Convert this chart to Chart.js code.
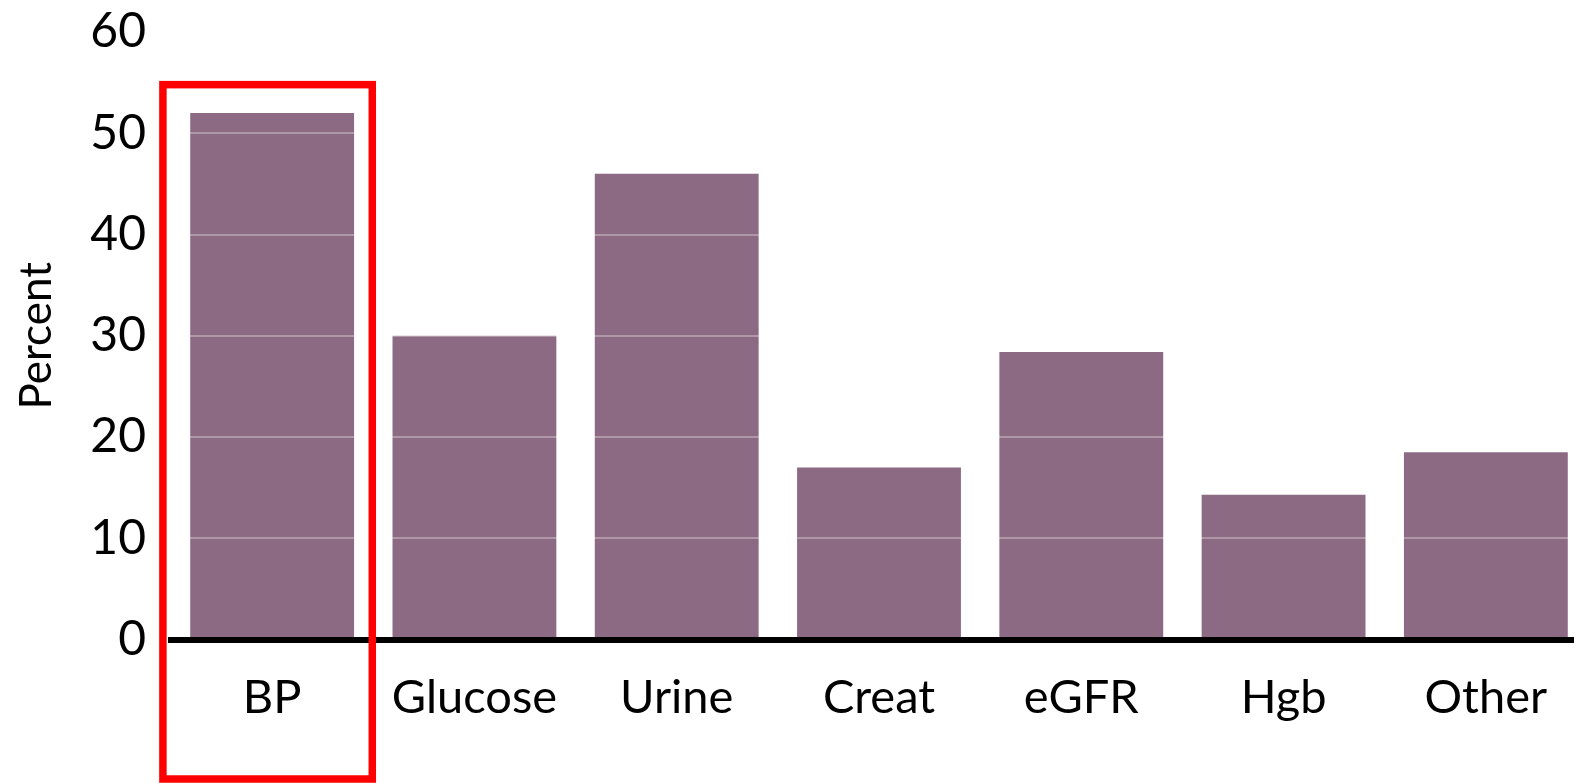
<!DOCTYPE html>
<html>
<head>
<meta charset="utf-8">
<script src="https://cdn.jsdelivr.net/npm/chart.js@4/dist/chart.umd.min.js"></script>
<style>
  html, body { margin: 0; padding: 0; background: #fff; overflow: hidden; }
  #wrap { width: 1574px; height: 783px; overflow: hidden; }
  canvas { display: block; }
</style>
</head>
<body>
<div id="wrap"><canvas id="grafico" width="1588" height="783"></canvas></div>
<script>
const categories = ['BP', 'Glucose', 'Urine', 'Creat', 'eGFR', 'Hgb', 'Other'];
const percentValues = [52, 30, 46, 17, 28.4, 14.3, 18.5];
const yTicks = [0, 10, 20, 30, 40, 50, 60];
const highlighted = 'BP';

const FONT = 'Lato, "Noto Sans", sans-serif';
const BAR_COLOR = '#8d6a83';

// red frame around the highlighted category, spanning down past the axis labels
const highlightBox = {
  id: 'highlightBox',
  afterDraw(chart) {
    const x = chart.scales.x;
    const y = chart.scales.y;
    const idx = categories.indexOf(highlighted);
    const step = x.width / categories.length;
    const cx = x.getPixelForValue(idx);
    const left = cx - step * 0.54;
    const right = cx + step * 0.495;
    const top = y.getPixelForValue(54.8);
    const bottom = chart.height - 4;
    const ctx = chart.ctx;
    ctx.save();
    ctx.strokeStyle = '#ff0000';
    ctx.lineWidth = 7.5;
    ctx.strokeRect(left, top, right - left, bottom - top);
    ctx.restore();
  }
};

new Chart(document.getElementById('grafico'), {
  type: 'bar',
  data: {
    labels: categories,
    datasets: [{
      data: percentValues,
      backgroundColor: BAR_COLOR,
      borderWidth: 0,
      categoryPercentage: 0.81,
      barPercentage: 1
    }]
  },
  options: {
    responsive: false,
    animation: false,
    layout: { padding: { top: 32, right: 1, left: 0, bottom: 0 } },
    plugins: { legend: { display: false }, tooltip: { enabled: false } },
    scales: {
      x: {
        grid: { display: false, drawTicks: false },
        border: { display: true, color: '#000', width: 6, z: 1 },
        ticks: { color: '#000', padding: 30, font: { family: FONT, size: 47 } },
        afterFit: s => { s.height = 143.5; }
      },
      y: {
        min: 0,
        max: 60,
        afterBuildTicks: s => { s.ticks = yTicks.map(v => ({ value: v })); },
        // light grid lines sit on top of the bars; the gap to the labels comes from invisible tick marks
        grid: {
          z: 1,
          lineWidth: 2,
          color: ctx => (ctx.tick && ctx.tick.value === 0 ? 'rgba(0,0,0,0)' : 'rgba(255,255,255,0.3)'),
          drawTicks: true,
          tickLength: 25,
          tickColor: 'rgba(0,0,0,0)'
        },
        border: { display: false },
        ticks: { color: '#000', padding: 0, font: { family: FONT, size: 48 } },
        title: {
          display: true,
          text: 'Percent',
          color: '#000',
          padding: { top: 10, bottom: 0 },
          font: { family: FONT, size: 44 }
        },
        afterFit: s => { s.width = 171; }
      }
    }
  },
  plugins: [highlightBox]
});
</script>
</body>
</html>
